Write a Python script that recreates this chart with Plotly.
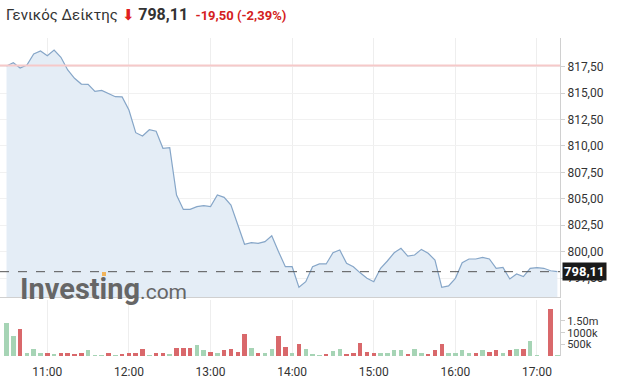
import pandas as pd
import plotly.graph_objects as go

# ---- data (5-minute intervals from 10:30) ----
start_time = "2021-03-01 10:30"
price = [817.56, 817.88, 817.38, 817.66, 818.70, 818.99, 818.54, 819.08, 818.39, 817.19,
         816.40, 815.86, 815.83, 815.17, 815.26, 814.95, 814.66, 814.64, 813.40, 811.26,
         810.95, 811.54, 811.39, 809.78, 809.84, 805.36, 804.00, 804.00, 804.26, 804.35,
         804.26, 805.36, 805.14, 804.42, 802.53, 800.70, 800.85, 800.79, 800.95, 801.51,
         800.00, 798.58, 798.58, 796.63, 797.16, 798.58, 798.84, 798.84, 799.90, 800.16,
         798.90, 798.58, 798.00, 797.48, 797.16, 798.43, 799.12, 799.90, 800.32, 799.59,
         799.69, 800.22, 799.85, 799.21, 796.63, 796.76, 797.48, 798.96, 799.31, 799.31,
         799.47, 799.31, 798.43, 798.52, 797.42, 797.89, 797.64, 798.43, 798.49, 798.43,
         798.20, 798.11]
volume_k = [1400, 860, 1150, 110, 320, 150, 110, 55, 110, 110,
            70, 150, 250, 40, 30, 110, 40, 70, 150, 150,
            280, 30, 110, 110, 70, 360, 360, 330, 490, 240,
            190, 110, 240, 290, 190, 940, 360, 150, 110, 280,
            860, 400, 110, 530, 320, 100, 40, 55, 220, 320,
            55, 150, 570, 190, 150, 150, 150, 240, 240, 100,
            280, 150, 100, 240, 530, 150, 150, 240, 150, 150,
            240, 190, 240, 150, 240, 320, 320, 650, 30, 0,
            2030, 30]
direction = list("ggrgggrgrr" "rrgggrgrrr" "rgrrgrrrgg" "rgrrrrgrgg"
                 "rrgrgggrgg" "rrrrrgggg" "r" "ggrrrggggr" "grrgrgrggg" "rg")
prev_close = 817.61
last_price = 798.11
change = -19.50
change_pct = -2.39
price_ticks = [797.5, 800.0, 802.5, 805.0, 807.5, 810.0, 812.5, 815.0, 817.5]
vol_tickvals = [500000, 1000000, 1500000]
vol_ticktext = ["500k", "1000k", "1.50m"]

times = pd.date_range(start=start_time, periods=len(price), freq="5min")
volume = [v * 1000 for v in volume_k]
green, red = "#a6d4b5", "#d9686b"
bar_colors = [green if d == "g" else red for d in direction[:len(volume)]]

W, H = 622, 384
ML, MR, MT, MB = 0, 62, 38, 28
PW, PH = W - ML - MR, H - MT - MB


def px_x(x):
    return (x - ML) / PW


def px_y(y):
    return (H - MB - y) / PH


def fmt(v):
    return f"{v:,.2f}".replace(",", "X").replace(".", ",").replace("X", ".")


fig = go.Figure()
fig.add_trace(go.Scatter(
    x=times, y=price, mode="lines", line=dict(color="#86a6c8", width=1.2),
    fill="tozeroy", fillcolor="#e4edf6", xaxis="x", yaxis="y", hoverinfo="skip"))
fig.add_trace(go.Bar(
    x=times, y=volume, marker=dict(color=bar_colors, line=dict(width=0)),
    width=198000, xaxis="x2", yaxis="y2", hoverinfo="skip"))

xr = ["2021-03-01 10:25:13", "2021-03-01 17:16:55"]
grid = "#eeeeee"
fig.update_layout(
    width=W, height=H, margin=dict(l=ML, r=MR, t=MT, b=MB),
    paper_bgcolor="white", plot_bgcolor="white", showlegend=False,
    separators=",.",
    font=dict(family="Roboto", size=12, color="#333333"),
    xaxis=dict(range=xr, domain=[0, 1], anchor="y", showgrid=True, gridcolor=grid,
               dtick=3600000, tick0="2021-03-01 11:00", showticklabels=False,
               showline=True, linecolor="#d0d0d0", linewidth=1, zeroline=False),
    yaxis=dict(domain=[px_y(297), 1], range=[795.715, 820.215], side="right",
               tickvals=price_ticks, tickformat=".2f", showgrid=True, gridcolor="#f1f1f1",
               showline=True, linecolor="#d0d0d0", ticks="outside", ticklen=4,
               tickcolor="#d0d0d0", zeroline=False, anchor="x"),
    xaxis2=dict(range=xr, domain=[0, 1], anchor="y2", showgrid=True, gridcolor=grid,
                dtick=3600000, tick0="2021-03-01 11:00", tickformat="%H:%M",
                ticks="outside", ticklen=5, tickcolor="rgba(0,0,0,0)",
                showline=False, zeroline=False),
    yaxis2=dict(domain=[0, px_y(300)], range=[0, 56 / 11.67 * 500000], side="right",
                tickvals=vol_tickvals, ticktext=vol_ticktext, showgrid=False,
                tickfont=dict(size=11),
                showline=True, linecolor="#d0d0d0", ticks="outside", ticklen=4,
                tickcolor="#d0d0d0", zeroline=False, anchor="x2"),
    bargap=0,
)

# reference lines
fig.add_shape(type="line", xref="x domain", yref="y", x0=0, x1=1, y0=prev_close, y1=prev_close,
              line=dict(color="#f6c9c9", width=2), layer="above")
fig.add_shape(type="line", xref="x domain", yref="y", x0=0, x1=1, y0=last_price, y1=last_price,
              line=dict(color="#555555", width=1, dash="dash"), layer="above")

# last price tag
fig.add_annotation(xref="paper", yref="y", x=px_x(562), y=last_price, xanchor="left",
                   text=f"<b>{fmt(last_price)}</b>", showarrow=False, bgcolor="#1a1a1a",
                   font=dict(color="white", size=13, family="Roboto"), borderpad=1)

# watermark
fig.add_annotation(xref="paper", yref="paper", x=px_x(18), y=px_y(289), xanchor="left",
                   yanchor="middle", showarrow=False,
                   text="<b>Investing</b><span style='font-size:21px;font-weight:normal'>.com</span>",
                   font=dict(color="#666666", size=29, family="Roboto"))
fig.add_shape(type="rect", xref="paper", yref="paper", x0=px_x(102), x1=px_x(106),
              y0=px_y(276), y1=px_y(272), fillcolor="#f2b45a", line=dict(width=0), layer="above")

# header
fig.add_annotation(xref="paper", yref="paper", x=px_x(4), y=px_y(14), xanchor="left",
                   yanchor="middle", showarrow=False,
                   text=("Γενικός Δείκτης <span style='color:#e02020'>⬇</span> "
                         f"<b><span style='font-size:16px'>{fmt(last_price)}</span></b>  "
                         f"<span style='color:#d42020;font-size:13px'><b>{fmt(change)} ({fmt(change_pct)}%)</b></span>"),
                   font=dict(color="#333333", size=15, family="Roboto"))

fig.write_html("out.html")
